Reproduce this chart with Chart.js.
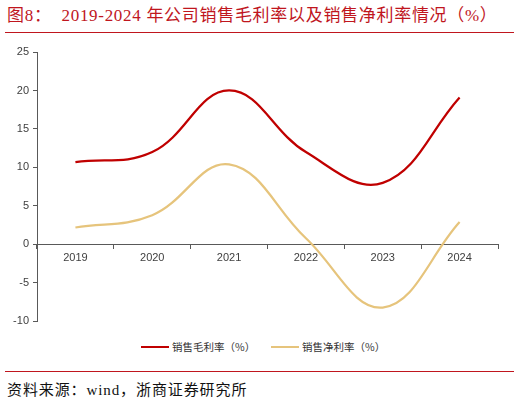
<!DOCTYPE html>
<html>
<head>
<meta charset="utf-8">
<script src="https://cdn.jsdelivr.net/npm/chart.js@4.4.0/dist/chart.umd.min.js"></script>
<style>
  html, body { margin:0; padding:0; background:#fff; }
  body { width:520px; height:402px; position:relative; overflow:hidden; }
  #title { position:absolute; left:7px; top:4px; font-family:"Liberation Serif","Noto Sans CJK SC",serif; font-size:17px; letter-spacing:0.7px; color:#C0161E; white-space:nowrap; line-height:24px; }
  .rule { position:absolute; left:5px; width:509px; height:1px; background:#C0161E; }
  #wrap { position:absolute; left:0; top:40px; width:520px; height:292px; }
  #legend { position:absolute; top:339px; left:0; width:520px; height:16px; font-family:"Noto Sans CJK SC",sans-serif; font-size:10.5px; color:#333; }
  .li { position:absolute; top:0; height:16px; line-height:16px; white-space:nowrap; }
  .li span.sw { display:inline-block; width:28px; height:2px; vertical-align:middle; margin-right:3px; position:relative; top:-1px; }
  #foot { position:absolute; left:7px; top:380px; font-family:"Liberation Serif","Noto Sans CJK SC",serif; font-size:15px; color:#111; white-space:nowrap; letter-spacing:0.9px; line-height:20px; }
</style>
</head>
<body>
<div id="title">图8：&nbsp;&nbsp;2019-2024 年公司销售毛利率以及销售净利率情况（%）</div>
<div class="rule" style="top:32px"></div>
<div id="wrap"><canvas id="c"></canvas></div>
<div id="legend"></div>
<div class="rule" style="top:371px"></div>
<div id="foot">资料来源：wind，浙商证券研究所</div>
<script>
const categories = ['2019','2020','2021','2022','2023','2024'];
const grossMargin = [10.7, 12.0, 20.0, 12.0, 8.0, 19.1];
const netMargin = [2.2, 3.8, 10.4, 0.8, -8.2, 2.9];
const seriesNames = ['销售毛利率（%）', '销售净利率（%）'];
const seriesColors = ['#C00000', '#E6C47C'];
const yTicks = [-10, -5, 0, 5, 10, 15, 20, 25];

// legend
const legendPos = [141, 271];
const lg = document.getElementById('legend');
seriesNames.forEach((n, i) => {
  const d = document.createElement('div');
  d.className = 'li';
  d.style.left = legendPos[i] + 'px';
  d.innerHTML = '<span class="sw" style="background:' + seriesColors[i] + '"></span>' + n;
  lg.appendChild(d);
});

const axisColor = '#595959';
new Chart(document.getElementById('c'), {
  type: 'line',
  data: {
    labels: categories,
    datasets: [
      { label: seriesNames[0], data: grossMargin, borderColor: seriesColors[0], borderWidth: 2.25, tension: 0.4, pointRadius: 0, fill: false },
      { label: seriesNames[1], data: netMargin, borderColor: seriesColors[1], borderWidth: 2.25, tension: 0.4, pointRadius: 0, fill: false }
    ]
  },
  options: {
    responsive: true,
    maintainAspectRatio: false,
    animation: false,
    events: [],
    layout: { padding: { top: 12, right: 22, bottom: 5, left: 0 } },
    plugins: { legend: { display: false }, tooltip: { enabled: false } },
    scales: {
      x: {
        type: 'category',
        position: { y: 0 },
        offset: true,
        grid: { offset: true, drawOnChartArea: false, drawTicks: true, tickLength: 4, color: axisColor },
        border: { display: true, color: axisColor, width: 1 },
        ticks: { color: '#404040', font: { family: 'Liberation Sans, Arial, sans-serif', size: 11 }, padding: 3, maxRotation: 0 },
        afterFit: (s) => { s.height = 0; }
      },
      y: {
        min: -10, max: 25,
        afterBuildTicks: (s) => { s.ticks = yTicks.map(v => ({ value: v })); },
        grid: { drawOnChartArea: false, drawTicks: true, tickLength: 4, color: axisColor },
        border: { display: true, color: axisColor, width: 1 },
        ticks: { color: '#404040', font: { family: 'Liberation Sans, Arial, sans-serif', size: 11 }, padding: 4 },
        afterFit: (s) => { s.width = 37; }
      }
    }
  }
});
</script>
</body>
</html>
